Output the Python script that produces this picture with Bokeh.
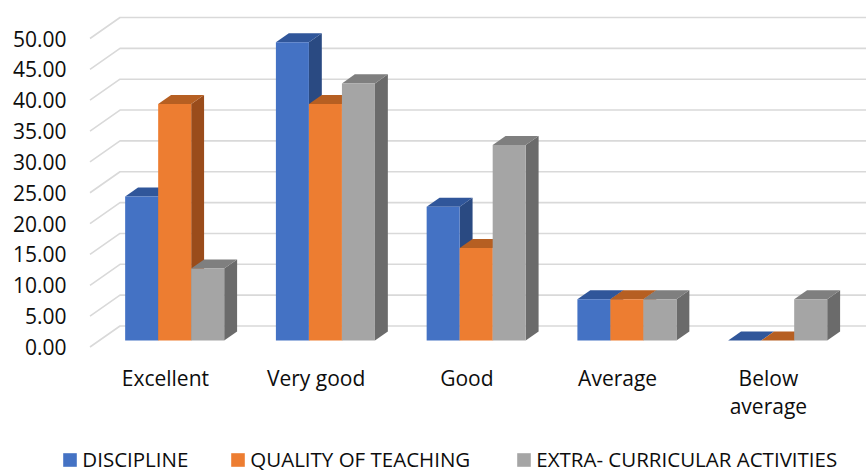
from bokeh.plotting import figure
from bokeh.models import Range1d, FixedTicker, NumeralTickFormatter, Legend, LegendItem
from bokeh.core.properties import value
from bokeh.embed import file_html
from bokeh.resources import INLINE

# ---------------- data ----------------
categories = ["Excellent", "Very good", "Good", "Average", "Below average"]
label_lines = ["Excellent", "Very good", "Good", "Average", "Below\naverage"]
discipline = [23.33, 48.33, 21.67, 6.67, 0.0]
quality = [38.33, 38.33, 15.0, 6.67, 0.0]
extra = [11.67, 41.67, 31.67, 6.67, 6.67]
series_names = ["DISCIPLINE", "QUALITY OF TEACHING", "EXTRA- CURRICULAR ACTIVITIES"]
y_ticks = [0, 5, 10, 15, 20, 25, 30, 35, 40, 45, 50]

# ---------------- styling / geometry ----------------
front_colors = ["#4472C4", "#ED7D31", "#A5A5A5"]
top_colors = ["#30569a", "#b65f22", "#7f7f7f"]
side_colors = ["#2a4a82", "#9a4c1b", "#6b6b6b"]
FONT = "Open Sans"
TEXT_COLOR = "#0d0d0d"

W, H = 866, 475
LEFT = 60            # frame left edge (px)
PX_X = 150.75        # px per category band
PX_Y = 6.17          # px per value unit
X_ORIGIN = 89.5      # front-plane start of first band (px)
ZERO_Y = 346.5       # front-plane zero (px from top)
x0 = (LEFT - X_ORIGIN) / PX_X
x1 = (W - X_ORIGIN) / PX_X
y1 = ZERO_Y / PX_Y
y0 = (ZERO_Y - H) / PX_Y

DX = 30 / PX_X       # 3D depth offset (wall)
DY = 21 / PX_Y
F0, F1 = 0.31, 0.74  # bar depth (front, back) as fraction of wall depth
BAR_W = 0.219
OFF = (1 - 3 * BAR_W) / 2

p = figure(width=W, height=H, output_backend="svg", toolbar_location=None,
           x_range=Range1d(x0, x1), y_range=Range1d(y0, y1),
           min_border_left=LEFT, min_border_right=0, min_border_top=0, min_border_bottom=0,
           outline_line_color=None, background_fill_color="white", border_fill_color="white")
p.xaxis.visible = False
p.xgrid.visible = False
p.ygrid.visible = False

ya = p.yaxis[0]
ya.ticker = FixedTicker(ticks=y_ticks)
ya.formatter = NumeralTickFormatter(format="0.00")
ya.axis_line_color = None
ya.major_tick_line_color = None
ya.minor_tick_line_color = None
ya.major_tick_in = 0
ya.major_tick_out = 0
ya.major_label_standoff = -6
ya.major_label_text_font = FONT
ya.major_label_text_font_size = "21px"
ya.major_label_text_color = TEXT_COLOR

# gridlines: side wall diagonal + back wall horizontal
gxs = [[0, DX, x1 + 1] for v in y_ticks]
gys = [[v, v + DY, v + DY] for v in y_ticks]
p.multi_line(gxs, gys, line_color="#d9d9d9", line_width=1.6)

# bars (3D: side face, top face, front face)
series = [discipline, quality, extra]
legend_renderers = []
for s, vals in enumerate(series):
    lefts = [i + OFF + s * BAR_W for i in range(len(categories))]
    side_xs, side_ys, top_xs, top_ys = [], [], [], []
    fl, fr, fb, ft = [], [], [], []
    for L, v in zip(lefts, vals):
        R = L + BAR_W
        side_xs.append([R + F0 * DX, R + F1 * DX, R + F1 * DX, R + F0 * DX])
        side_ys.append([F0 * DY, F1 * DY, v + F1 * DY, v + F0 * DY])
        top_xs.append([L + F0 * DX, R + F0 * DX, R + F1 * DX, L + F1 * DX])
        top_ys.append([v + F0 * DY, v + F0 * DY, v + F1 * DY, v + F1 * DY])
        fl.append(L + F0 * DX)
        fr.append(R + F0 * DX)
        fb.append(F0 * DY)
        ft.append(v + F0 * DY)
    p.patches(side_xs, side_ys, fill_color=side_colors[s], line_color=None)
    p.patches(top_xs, top_ys, fill_color=top_colors[s], line_color=None)
    r = p.quad(left=fl, right=fr, bottom=fb, top=ft, fill_color=front_colors[s], line_color=None)
    legend_renderers.append(r)

# category labels (front plane centres)
first = [t.split("\n")[0] for t in label_lines]
second = [t.split("\n")[1] if "\n" in t else "" for t in label_lines]
cx = [i + 0.5 for i in range(len(categories))]
base1 = (ZERO_Y - 377) / PX_Y
base2 = base1 - 28.5 / PX_Y
p.text(x=cx, y=[base1] * len(cx), text=first, text_align="center", text_baseline="alphabetic",
       text_font=value(FONT), text_font_size="21px", text_color=TEXT_COLOR)
p.text(x=cx, y=[base2] * len(cx), text=second, text_align="center", text_baseline="alphabetic",
       text_font=value(FONT), text_font_size="21px", text_color=TEXT_COLOR)

# legend: one legend per entry, placed like the reference
leg_x = [61.3 - LEFT, 229.3 - LEFT, 515.3 - LEFT]
for name, r, lx in zip(series_names, legend_renderers, leg_x):
    leg = Legend(items=[LegendItem(label=name, renderers=[r])], location=(lx, 2),
                 orientation="horizontal", padding=0, margin=0, spacing=0,
                 border_line_color=None, background_fill_alpha=0,
                 glyph_width=17, glyph_height=17, label_standoff=4, label_height=26,
                 label_text_font=FONT, label_text_font_size="20.5px", label_text_color=TEXT_COLOR)
    p.add_layout(leg)

open("out.html", "w").write(file_html(p, INLINE))
